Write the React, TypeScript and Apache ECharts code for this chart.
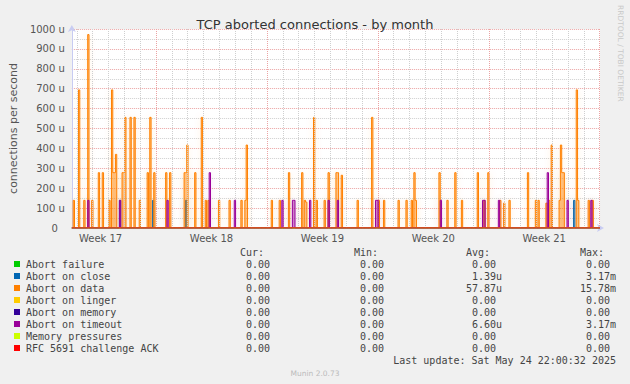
import React, { useEffect, useRef } from 'react';
import * as echarts from 'echarts';

const TITLE = 'TCP aborted connections - by month';
const Y_NAME = 'connections per second';
const SIDE_TEXT = 'RRDTOOL / TOBI OETIKER';
const FOOTER = 'Munin 2.0.73';
const LAST_UPDATE = 'Last update: Sat May 24 22:00:32 2025';

// time axis in hours from the left edge of the graph, 2-hour consolidated bins
const RANGE_HOURS = 800;
const BIN_HOURS = 2;
const FIRST_MIDNIGHT_HOUR = 7.5;
const FIRST_WEEK_START_HOUR = 127.5; // start of Week 18
const WEEK_LABELS = ['Week 17', 'Week 18', 'Week 19', 'Week 20', 'Week 21'];
const Y_MAX = 1000;
const Y_STEP = 100;

// spikes: [hour offset, value in micro-connections/s]
const abortOnClose: [number, number][] = [
  [72, 139], [122, 139], [172, 139], [760, 139],
];
const abortOnData: [number, number][] = [
  [2, 139], [10, 694], [18, 139], [24, 972], [30, 139], [40, 278], [46, 278], [56, 139],
  [60, 694], [62, 278], [64, 278], [66, 370], [76, 278], [78, 278], [80, 556], [88, 556],
  [94, 556], [102, 139], [114, 278], [118, 556], [124, 278], [142, 278], [148, 278],
  [170, 278], [172, 278], [174, 417], [186, 278], [196, 556], [202, 139], [206, 139],
  [222, 139], [238, 139], [256, 139], [262, 139], [264, 417], [302, 139], [314, 139],
  [328, 278], [348, 278], [352, 139], [354, 130], [366, 556], [370, 139], [382, 139],
  [388, 278], [400, 278], [402, 278], [408, 265], [432, 139], [454, 556], [464, 139],
  [472, 139], [494, 139], [506, 139], [514, 139], [518, 278], [520, 139], [556, 278],
  [568, 139], [580, 278], [590, 139], [614, 278], [624, 139], [630, 278], [648, 139],
  [654, 125], [662, 139], [690, 278], [702, 139], [706, 139], [718, 125], [722, 139],
  [726, 417], [738, 139], [740, 417], [742, 278], [744, 278], [764, 694], [766, 139],
  [782, 139], [788, 139],
];
const abortOnTimeout: [number, number][] = [
  [24, 139], [72, 139], [144, 139], [208, 278], [246, 139], [318, 139], [334, 139],
  [336, 139], [360, 139], [388, 139], [402, 139], [460, 139], [462, 139], [558, 139],
  [622, 139], [624, 139], [646, 139], [720, 278], [750, 139], [786, 139],
];
const noEvents: [number, number][] = [];

const LEGEND_NAMES = [
  'Abort failure', 'Abort on close', 'Abort on data', 'Abort on linger',
  'Abort on memory', 'Abort on timeout', 'Memory pressures', 'RFC 5691 challenge ACK',
];
const LEGEND_COLORS = ['#00cc00', '#0066b3', '#ff8000', '#ffcc00', '#330099', '#990099', '#ccff00', '#ff0000'];
const SERIES_SPIKES = [noEvents, abortOnClose, abortOnData, noEvents, noEvents, abortOnTimeout, noEvents, noEvents];
const CUR_VALUES = ['0.00', '0.00', '0.00', '0.00', '0.00', '0.00', '0.00', '0.00'];
const MIN_VALUES = ['0.00', '0.00', '0.00', '0.00', '0.00', '0.00', '0.00', '0.00'];
const AVG_VALUES = ['0.00', '1.39u', '57.87u', '0.00', '0.00', '6.60u', '0.00', '0.00'];
const MAX_VALUES = ['0.00', '3.17m', '15.78m', '0.00', '0.00', '3.17m', '0.00', '0.00'];
const COLUMN_HEADERS = ['Cur:', 'Min:', 'Avg:', 'Max:'];

function toBins(spikes: [number, number][]): [number, number][] {
  const n = RANGE_HOURS / BIN_HOURS;
  const vals = new Array(n + 1).fill(0);
  spikes.forEach(([h, v]) => {
    const i = Math.floor(h / BIN_HOURS);
    if (i >= 0 && i <= n) vals[i] = Math.max(vals[i], v);
  });
  return vals.map((v, i) => [i * BIN_HOURS, v]);
}

const SANS = 'DejaVu Sans';
const MONO = 'DejaVu Sans Mono';
const MAJOR_GRID = { color: '#eba3a3', type: [1, 1], width: 1 };
const MINOR_GRID = { color: '#cfcfcf', type: [1, 1], width: 1 };
const GLOW = ['', 'rgba(0,102,179,0.55)', 'rgba(255,140,20,0.6)', '', '', 'rgba(153,0,153,0.5)', '', ''];

export default function App() {
  const ref = useRef<HTMLDivElement>(null);
  useEffect(() => {
    document.body.style.margin = '0';
    const chart = echarts.init(ref.current!, undefined, { renderer: 'svg' });

    const dayHours: number[] = [];
    for (let h = FIRST_MIDNIGHT_HOUR; h < RANGE_HOURS; h += 24) dayHours.push(h);
    const isWeek = (h: number) => Math.abs(((h - FIRST_WEEK_START_HOUR) % 168 + 168) % 168) < 0.01;
    const weekMids = WEEK_LABELS.map((_, k) => FIRST_WEEK_START_HOUR + (k - 1) * 168 + 84);

    const gridSeries: any = {
      type: 'line',
      data: [[0, 0]],
      symbol: 'none',
      lineStyle: { opacity: 0 },
      silent: true,
      z: 1,
      markLine: {
        silent: true,
        symbol: ['none', 'none'],
        label: { show: false },
        animation: false,
        data: dayHours.map((h) => ({
          xAxis: h,
          lineStyle: isWeek(h) ? MAJOR_GRID : MINOR_GRID,
        })),
      },
    };

    const dataSeries = LEGEND_NAMES.map((name, k) => {
      const hasData = SERIES_SPIKES[k].length > 0;
      return {
        name,
        type: 'line',
        step: 'end',
        data: toBins(SERIES_SPIKES[k]),
        symbol: 'none',
        z: 2 + k,
        lineStyle: { color: LEGEND_COLORS[k], width: 1 },
        areaStyle: hasData
          ? { color: LEGEND_COLORS[k], opacity: 0.45, shadowBlur: 6, shadowColor: GLOW[k] }
          : undefined,
        silent: true,
      };
    });

    const legendTexts: any[] = [];
    const rowY = (r: number) => 264 + r * 12;
    const colRight = [276, 390, 502, 616];
    COLUMN_HEADERS.forEach((t, c) => {
      legendTexts.push({
        type: 'text', x: colRight[c] - 12, y: 252,
        style: { text: t, font: `10px ${MONO}`, fill: '#444', textAlign: 'right', textVerticalAlign: 'middle' },
      });
    });
    const cols = [CUR_VALUES, MIN_VALUES, AVG_VALUES, MAX_VALUES];
    LEGEND_NAMES.forEach((name, r) => {
      legendTexts.push({
        type: 'rect', shape: { x: 14, y: rowY(r) - 3, width: 6, height: 6 },
        style: { fill: LEGEND_COLORS[r] },
      });
      legendTexts.push({
        type: 'text', x: 26, y: rowY(r),
        style: { text: name, font: `10px ${MONO}`, fill: '#444', textAlign: 'left', textVerticalAlign: 'middle' },
      });
      cols.forEach((col, c) => {
        const v = col[r];
        const hasUnit = /[a-z]$/.test(v);
        legendTexts.push({
          type: 'text', x: colRight[c] - (hasUnit ? 0 : 6), y: rowY(r),
          style: { text: v, font: `10px ${MONO}`, fill: '#444', textAlign: 'right', textVerticalAlign: 'middle' },
        });
      });
    });
    legendTexts.push({
      type: 'text', x: 616, y: 360,
      style: { text: LAST_UPDATE, font: `10px ${MONO}`, fill: '#444', textAlign: 'right', textVerticalAlign: 'middle' },
    });
    legendTexts.push({
      type: 'text', x: 315, y: 373,
      style: { text: FOOTER, font: `7.5px ${SANS}`, fill: '#bbb', textAlign: 'center', textVerticalAlign: 'middle' },
    });
    legendTexts.push({
      type: 'text', x: 620, y: 5, rotation: -Math.PI / 2,
      style: { text: SIDE_TEXT, font: `7.5px ${SANS}`, fill: '#c8c8c8', textAlign: 'left', textVerticalAlign: 'middle' },
    });

    chart.setOption({
      animation: false,
      backgroundColor: '#f0f0f0',
      title: {
        text: TITLE,
        left: 'center',
        top: 13,
        textStyle: { fontFamily: SANS, fontSize: 13, fontWeight: 'normal', color: '#333' },
      },
      grid: {
        left: 67, right: 30, top: 29, bottom: 156,
        show: true, backgroundColor: '#ffffff', borderWidth: 0,
      },
      xAxis: {
        type: 'value',
        min: 0,
        max: RANGE_HOURS,
        splitLine: { show: false },
        axisTick: { show: false },
        axisLine: {
          show: true,
          lineStyle: { color: '#c8ccf2', width: 1 },
          symbol: ['none', 'arrow'],
          symbolSize: [6, 7],
          symbolOffset: [0, 4],
        },
        axisLabel: {
          customValues: weekMids,
          formatter: (v: number) => {
            const k = weekMids.findIndex((m) => Math.abs(m - v) < 0.01);
            return k >= 0 ? WEEK_LABELS[k] : '';
          },
          fontFamily: SANS, fontSize: 10, color: '#555', margin: 5,
          showMinLabel: true, showMaxLabel: true,
        },
      },
      yAxis: {
        type: 'value',
        min: 0,
        max: Y_MAX,
        interval: Y_STEP,
        name: Y_NAME,
        nameLocation: 'middle',
        nameRotate: 90,
        nameGap: 52,
        nameTextStyle: { fontFamily: SANS, fontSize: 11, color: '#555' },
        axisLine: {
          show: true,
          lineStyle: { color: '#c8ccf2', width: 1 },
          symbol: ['none', 'arrow'],
          symbolSize: [6, 7],
          symbolOffset: [0, 4],
        },
        axisTick: { show: false },
        minorTick: { show: false, splitNumber: 2 },
        axisLabel: {
          formatter: (v: number) => (v === 0 ? '{z|0}' : `${v} u`),
          fontFamily: SANS, fontSize: 10, color: '#555', margin: 7,
          rich: { z: { fontFamily: SANS, fontSize: 10, color: '#555', padding: [0, 7, 0, 0] } },
        },
        splitLine: { show: true, lineStyle: MAJOR_GRID },
        minorSplitLine: { show: true, lineStyle: MINOR_GRID },
      },
      series: [gridSeries, ...dataSeries],
      graphic: legendTexts,
    });
    return () => chart.dispose();
  }, []);
  return <div ref={ref} style={{ width: 630, height: 384 }} />;
}
